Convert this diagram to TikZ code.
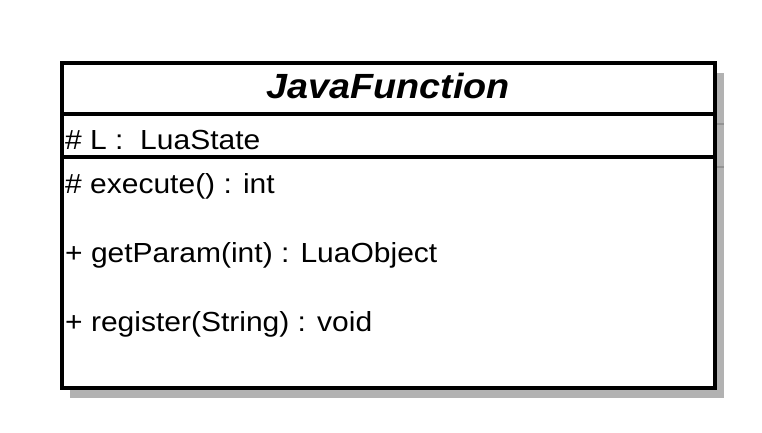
\documentclass[tikz,border=0pt]{standalone}
\usepackage{fontspec}
\setmainfont{Liberation Sans}
\begin{document}
\begin{tikzpicture}[x=1pt,y=-1pt,
  boxline/.style={line width=3.2pt,black},
  shadowfill/.style={fill=black!30,draw=none},
  member/.style={anchor=base west,inner sep=0pt,font=\fontsize{30}{32}\selectfont},
  titletext/.style={anchor=base,inner sep=0pt,font=\fontsize{35}{37}\selectfont\bfseries\itshape}]
\useasboundingbox (0,0) rectangle (762,432);
\fill[white] (0,0) rectangle (762,432);
% shadow
\fill[shadowfill] (70,73) rectangle (724,398);
\draw[black!42,line width=2.5pt] (715,124) -- (724,124);
\draw[black!42,line width=2.5pt] (715,167) -- (724,167);
% box
\draw[boxline,fill=white] (62,63) rectangle (715,388);
\draw[boxline] (62,114) -- (715,114);
\draw[boxline] (62,157) -- (715,157);
% texts
\node[titletext] (title) at (388,98) {\scalebox{1.08}[1]{JavaFunction}};
\node[member] (attr) at (65,149) {\scalebox{1}[0.92]{\# L :\ \ LuaState}};
\node[member] (m1) at (65,193) {\scalebox{1}[0.92]{\# execute() : int}};
\node[member] (m2) at (65,262) {\scalebox{1}[0.92]{+ getParam(int) : LuaObject}};
\node[member] (m3) at (65,331) {\scalebox{1}[0.92]{+ register(String) : void}};
\end{tikzpicture}
\end{document}
